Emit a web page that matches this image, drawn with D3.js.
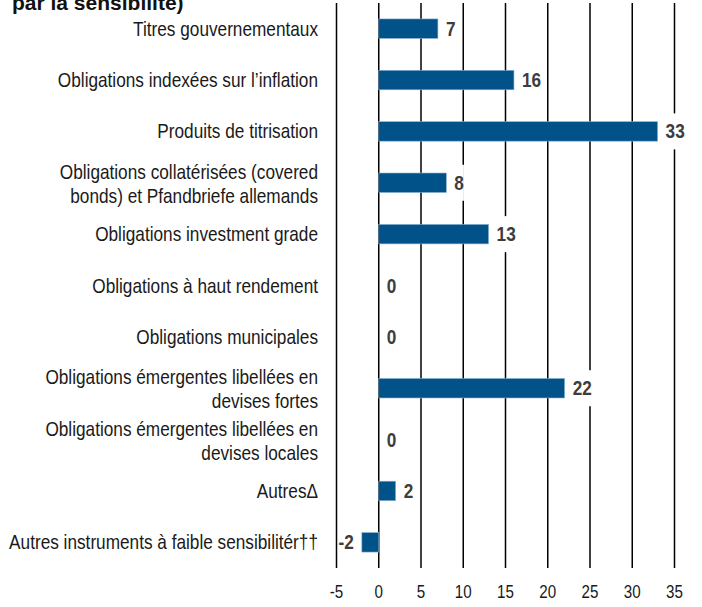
<!DOCTYPE html>
<html>
<head>
<meta charset="utf-8">
<script src="https://cdn.jsdelivr.net/npm/d3@7"></script>
<style>
  body { margin: 0; background: #fff; }
  svg { display: block; font-family: "Liberation Sans", Arial, sans-serif; }
</style>
</head>
<body>
<svg width="702" height="607"></svg>
<script>
// categories, top to bottom (line breaks as in the picture)
var categories = [
  ["Titres gouvernementaux"],
  ["Obligations indexées sur l\u2019inflation"],
  ["Produits de titrisation"],
  ["Obligations collatérisées (covered", "bonds) et Pfandbriefe allemands"],
  ["Obligations investment grade"],
  ["Obligations à haut rendement"],
  ["Obligations municipales"],
  ["Obligations émergentes libellées en", "devises fortes"],
  ["Obligations émergentes libellées en", "devises locales"],
  ["Autres\u0394"],
  ["Autres instruments à faible sensibilitér\u2020\u2020"]
];
var values = [7, 16, 33, 8, 13, 0, 0, 22, 0, 2, -2];
var tickValues = [-5, 0, 5, 10, 15, 20, 25, 30, 35];
var title = "par la sensibilité)";

var svg = d3.select("svg");
var narrow = 0.82;

var x = d3.scaleLinear().domain([-5, 35]).range([336.5, 674.5]);
var y = d3.scaleBand()
  .domain(d3.range(categories.length))
  .range([3, 568])
  .paddingInner(0.62)
  .paddingOuter(0.31);

// title (cut off at top, as in the source)
svg.append("text")
  .attr("x", 12).attr("y", 10)
  .attr("font-size", 21).attr("font-weight", "bold")
  .attr("fill", "#111")
  .text(title);

// vertical gridlines
svg.append("g")
  .selectAll("line")
  .data(tickValues)
  .enter().append("line")
  .attr("x1", function(d) { return x(d); })
  .attr("x2", function(d) { return x(d); })
  .attr("y1", y.range()[0])
  .attr("y2", y.range()[1])
  .attr("stroke", "#000")
  .attr("stroke-width", 1.5);

// tick labels
svg.append("g")
  .selectAll("text")
  .data(tickValues)
  .enter().append("text")
  .attr("transform", function(d) { return "translate(" + x(d) + ",598) scale(" + narrow + ",1)"; })
  .attr("text-anchor", "middle")
  .attr("font-size", 18.5)
  .attr("fill", "#1a1a1a")
  .text(function(d) { return d; });

// bars
svg.append("g")
  .selectAll("rect")
  .data(values)
  .enter().append("rect")
  .attr("x", function(d) { return x(Math.min(0, d)); })
  .attr("y", function(d, i) { return y(i); })
  .attr("width", function(d) { return Math.abs(x(d) - x(0)); })
  .attr("height", y.bandwidth())
  .attr("fill", "#005288")
  .attr("stroke", function(d) { return d === 0 ? "none" : "#8fb3d3"; })
  .attr("stroke-width", 0.6);

// value labels with white boxes
var lab = svg.append("g")
  .selectAll("g")
  .data(values)
  .enter().append("g")
  .attr("transform", function(d, i) {
    var cy = y(i) + y.bandwidth() / 2;
    var xx = d < 0 ? x(d) - 8 : x(d) + 8;
    return "translate(" + xx + "," + cy + ")";
  });

var boxes = lab.append("rect")
  .attr("fill", "#fff");

var vtext = lab.append("text")
  .attr("transform", "scale(0.86,1)")
  .attr("text-anchor", function(d) { return d < 0 ? "end" : "start"; })
  .attr("y", 7)
  .attr("font-size", 20)
  .attr("font-weight", "bold")
  .attr("fill", "#3d3d3d")
  .text(function(d) { return d; });

vtext.each(function(d, i) {
  var w = this.getComputedTextLength() * 0.86;
  d3.select(boxes.nodes()[i])
    .attr("x", d < 0 ? -w : 0)
    .attr("y", -18)
    .attr("width", w)
    .attr("height", 36);
});

// category labels
var cat = svg.append("g")
  .selectAll("g")
  .data(categories)
  .enter().append("g")
  .attr("transform", function(d, i) {
    return "translate(318," + (y(i) + y.bandwidth() / 2) + ") scale(" + narrow + ",1)";
  });

cat.each(function(lines) {
  var g = d3.select(this);
  var off = lines.length > 1 ? -12 + 8 : 7;
  lines.forEach(function(t, k) {
    g.append("text")
      .attr("text-anchor", "end")
      .attr("y", off + k * 24)
      .attr("font-size", 21)
      .attr("fill", "#1a1a1a")
      .text(t);
  });
});
</script>
</body>
</html>
